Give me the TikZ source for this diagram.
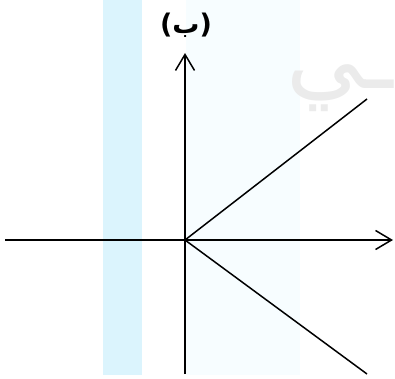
\documentclass[tikz,border=0pt]{standalone}
\usepackage{fontspec}
\newfontfamily\arabicfont[Script=Arabic]{DejaVu Sans}
\usetikzlibrary{arrows.meta}
\TeXXeTstate=1
\begin{document}
\begin{tikzpicture}[x=1pt,y=1pt]
\tikzstyle{axe} = [line width=1.5pt,-{Straight Barb[length=16pt,width=19pt,line width=1.5pt]}] %axes fléchés
\tikzstyle{demi} = [line width=1.5pt] %demi-droites
\useasboundingbox (0,0) rectangle (395,378);

%fond
\fill[cyan!14] (103,3) rectangle (142,378);
\fill[cyan!3] (186,3) rectangle (300,378);
\node[gray!16,inner sep=0pt,font=\arabicfont\fontsize{95}{100}\selectfont] (filigrane) at (340,290) {ـي};

%points
\coordinate (O) at (185,138);
\coordinate (G) at (5,138);
\coordinate (D) at (393,138);
\coordinate (B) at (185,4);
\coordinate (H) at (185,325);
\coordinate (P) at (367,279);
\coordinate (Q) at (367,4);
\node[font=\arabicfont\bfseries\fontsize{27}{30}\selectfont] (titre) at (186,353) {(ب)};

%axes
\draw[axe] (G)--(D);
\draw[axe] (B)--(H);

%demi-droites
\draw[demi] (O)--(P);
\draw[demi] (O)--(Q);
\end{tikzpicture}
\end{document}
